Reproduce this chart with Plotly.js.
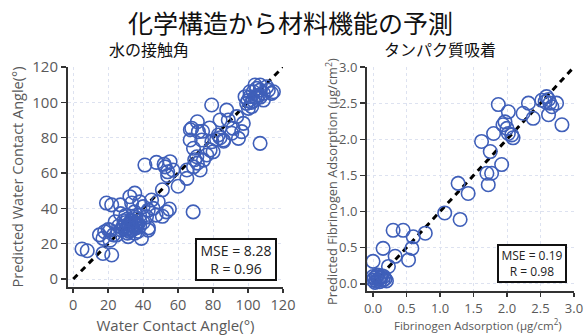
<!DOCTYPE html>
<html><head><meta charset="utf-8">
<script src="https://cdn.plot.ly/plotly-3.0.1.min.js"></script>
<style>html,body{margin:0;padding:0;background:#fff;}#chart{width:584px;height:335px;}</style>
</head><body><div id="chart"></div>
<script>
// Water contact angle: measured vs predicted
const wcaMeasured = [5,8,17,22,15,18,21,17,19,22,27,24,27,32.4,35.2,33.4,38,40,42.9,45.7,44.8,48.6,53.3,47.4,41.9,27.6,24.7,31.4,39,35.2,42.9,43,51,55,51,21,23,26,20,
 29,30,31,32,33,34,35,36,37,30,32,34,36,38,31,33,35,37,29,33,34,36,32,38,30,35,38,28,40,31,
 41,47.6,52.6,55.4,57,54,54,52,60,65,68.6,65,68.8,72.6,74.5,76.4,78.3,70.7,69.5,71,67.8,71.6,66.9,73.5,68.8,67,71,74,78,80,82,84,86,
 79.2,87.8,84,88.7,93.5,90.7,83,85.9,79.3,94.5,96.4,97.3,91.4,106.9,
 99.2,101.1,103,105,106.9,108.8,111.6,113.5,114.5,102.1,100.2,105,108.8,104,106.9,110.7,98.3,101.1,103,106,104,102,107,100];
const wcaPredicted = [17,16,14.5,13.6,25,26.8,27.7,23,43,42,42,32.4,37,46.6,48.6,43,43.7,41,39,40,44.7,43.7,38,36.2,35.3,27.7,24.9,24,23,25.9,27.7,29,35.5,39.6,50.5,22,25,30,28,
 30,32,29,31,33,30,32,29,31,28,27,28,34,30,34,28,35,27,33,31,33,31,29,33,36,38,36,29,32,26,
 64.5,66,63.5,66.4,61.7,60.7,58.5,65,52.5,57,38,61.7,63.5,61.7,67.3,70.2,73,69.2,67.5,65.6,85.3,83.4,78.7,78.7,74,84.5,89,83.6,85.5,72,79,80,78,
 98.5,95.6,90,90,91.9,82.5,81.5,78.7,77.7,79.6,83.4,88.1,85.3,76.8,
 99.4,103.2,106,107.9,106.9,105.1,106.9,105.1,106,97.6,96.6,102.3,101.3,109.8,109.8,108.8,103.2,106,101,104,103,100,103,101];
const wcaDiagonal = [0, 120];

// Fibrinogen adsorption: measured vs predicted
const fibMeasured = [0.0,0.02,0.05,0.08,0.1,0.12,0.15,0.18,0.2,0.03,0.07,0.1,0.13,0.0,0.16,0.05,
 0.0,0.15,0.30,0.45,0.60,0.78,0.58,0.53,0.33,0.23,
 1.07,1.30,1.27,1.42,
 1.62,1.75,1.70,1.77,1.72,1.92,
 1.80,1.87,1.94,2.00,2.02,2.07,2.09,1.97,2.02,
 2.24,2.32,2.39,2.52,2.59,2.64,2.74,2.67,2.62,2.82,2.57,2.62];
const fibPredicted = [0.05,0.08,0.1,0.06,0.03,0.09,0.05,0.07,0.04,0.02,0.12,0.08,0.11,0.1,0.1,0.04,
 0.31,0.49,0.74,0.74,0.65,0.70,0.49,0.33,0.38,0.24,
 0.98,0.89,1.39,1.25,
 1.97,1.83,1.53,1.53,1.37,1.65,
 2.08,2.48,2.20,2.15,2.08,2.06,2.02,2.24,2.38,
 2.36,2.50,2.29,2.54,2.59,2.50,2.50,2.45,2.34,2.20,2.52,2.55];
const fibDiagonal = [0, 3];

const mainTitle = '化学構造から材料機能の予測';
const leftTitle = '水の接触角';
const rightTitle = 'タンパク質吸着';
const leftXTitle = 'Water Contact Angle(°)';
const leftYTitle = 'Predicted Water Contact Angle(°)';
const rightXTitle = 'Fibrinogen Adsorption (μg/cm<sup>2</sup>)';
const rightYTitle = 'Predicted Fibrinogen Adsorption (μg/cm<sup>2</sup>)';
const leftStats = 'MSE = 8.28<br>R = 0.96';
const rightStats = 'MSE = 0.19<br>R = 0.98';

const blue = '#3f5fb9';
const grey = '#595959';
const fam = 'Open Sans, sans-serif';
const markerStyle = {symbol: 'circle-open', size: 13.5, color: blue, line: {width: 1.6, color: blue}};

const traces = [
  {x: wcaDiagonal, y: wcaDiagonal, xaxis: 'x', yaxis: 'y', mode: 'lines', line: {color: '#000', width: 3, dash: '6px,5px'}, hoverinfo: 'skip'},
  {x: wcaMeasured, y: wcaPredicted, xaxis: 'x', yaxis: 'y', mode: 'markers', marker: markerStyle},
  {x: fibDiagonal, y: fibDiagonal, xaxis: 'x2', yaxis: 'y2', mode: 'lines', line: {color: '#000', width: 3, dash: '6px,5px'}, hoverinfo: 'skip'},
  {x: fibMeasured, y: fibPredicted, xaxis: 'x2', yaxis: 'y2', mode: 'markers', marker: markerStyle}
];

const axisCommon = {showline: true, linecolor: '#333', linewidth: 2, ticks: 'outside', ticklen: 5, tickwidth: 1.5, tickcolor: '#333',
  showgrid: true, gridcolor: '#dde2f0', griddash: 'dot', gridwidth: 1, zeroline: false};

const layout = {
  width: 584, height: 335,
  margin: {l: 0, r: 0, t: 0, b: 0},
  paper_bgcolor: '#fff', plot_bgcolor: '#fff',
  showlegend: false,
  xaxis: Object.assign({}, axisCommon, {domain: [68/584, 283/584], range: [-3, 120], dtick: 20, anchor: 'y',
    ticklen: 4, tickfont: {family: fam, size: 14.5, color: grey},
    title: {text: leftXTitle, font: {family: fam, size: 15, color: grey}, standoff: 8}}),
  yaxis: Object.assign({}, axisCommon, {domain: [1-287/335, 1-67/335], range: [-4.5, 120], dtick: 20, anchor: 'x',
    tickfont: {family: fam, size: 15, color: grey},
    title: {text: leftYTitle, font: {family: fam, size: 14.5, color: grey}, standoff: 5}}),
  xaxis2: Object.assign({}, axisCommon, {domain: [367/584, 574/584], range: [-0.09, 3.0], dtick: 0.5, tickformat: '.1f', anchor: 'y2',
    ticklen: 4, tickfont: {family: fam, size: 13, color: grey}}),
  yaxis2: Object.assign({}, axisCommon, {domain: [1-291/335, 1-67/335], range: [-0.1, 3.0], dtick: 0.5, tickformat: '.1f', anchor: 'x2',
    tickfont: {family: fam, size: 13, color: grey}}),
  annotations: [
    {text: mainTitle, xref: 'paper', yref: 'paper', x: 290/584, y: 1-22/335, showarrow: false, xanchor: 'center', yanchor: 'middle',
      font: {family: 'Noto Sans CJK JP', size: 25, color: '#111'}},
    {text: leftTitle, xref: 'paper', yref: 'paper', x: 149/584, y: 1-49/335, showarrow: false, xanchor: 'center', yanchor: 'middle',
      font: {family: 'Noto Sans CJK JP', size: 16, color: '#111'}},
    {text: rightTitle, xref: 'paper', yref: 'paper', x: 440/584, y: 1-49/335, showarrow: false, xanchor: 'center', yanchor: 'middle',
      font: {family: 'Noto Sans CJK JP', size: 16, color: '#111'}},
    {text: rightXTitle, xref: 'paper', yref: 'paper', x: 478/584, y: 1-324/335, showarrow: false, xanchor: 'center', yanchor: 'middle',
      font: {family: fam, size: 11.5, color: grey}},
    {text: rightYTitle, xref: 'paper', yref: 'paper', x: 332/584, y: 1-182/335, showarrow: false, xanchor: 'center', yanchor: 'middle', textangle: -90,
      font: {family: fam, size: 12.8, color: grey}},
    {text: leftStats, xref: 'paper', yref: 'paper', x: 236/584, y: 1-259/335, showarrow: false, xanchor: 'center', yanchor: 'middle',
      font: {family: fam, size: 14, color: '#222'}, bordercolor: '#111', borderwidth: 2, borderpad: 1, bgcolor: '#fff', width: 76, align: 'center'},
    {text: rightStats, xref: 'paper', yref: 'paper', x: 532/584, y: 1-263/335, showarrow: false, xanchor: 'center', yanchor: 'middle',
      font: {family: fam, size: 12, color: '#222'}, bordercolor: '#111', borderwidth: 2, borderpad: 1, bgcolor: '#fff', width: 64, align: 'center'}
  ]
};

Plotly.newPlot('chart', traces, layout, {displayModeBar: false, staticPlot: true});
</script>
</body></html>
